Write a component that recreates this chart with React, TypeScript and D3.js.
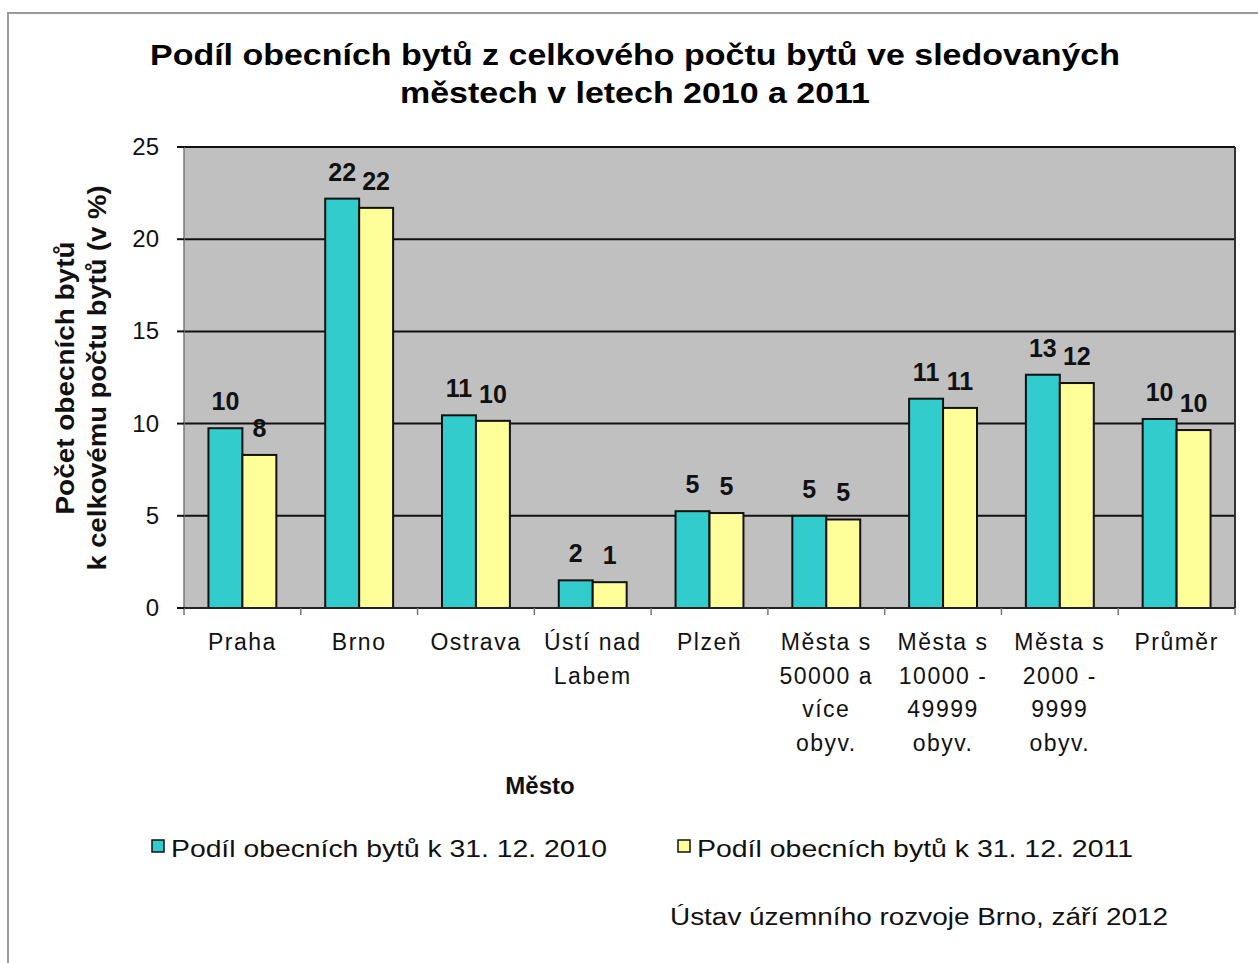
import React from "react";
import * as d3 from "d3";

const categories: string[][] = [
  ["Praha"],
  ["Brno"],
  ["Ostrava"],
  ["Ústí nad", "Labem"],
  ["Plzeň"],
  ["Města s", "50000 a", "více", "obyv."],
  ["Města s", "10000 -", "49999", "obyv."],
  ["Města s", "2000 -", "9999", "obyv."],
  ["Průměr"],
];
const series2010: number[] = [9.75, 22.2, 10.45, 1.5, 5.25, 5.0, 11.35, 12.65, 10.25];
const series2011: number[] = [8.3, 21.7, 10.15, 1.4, 5.15, 4.8, 10.85, 12.2, 9.65];
const labels2010: string[] = ["10", "22", "11", "2", "5", "5", "11", "13", "10"];
const labels2011: string[] = ["8", "22", "10", "1", "5", "5", "11", "12", "10"];
const seriesNames: string[] = ["Podíl obecních bytů k 31. 12. 2010", "Podíl obecních bytů k 31. 12. 2011"];
const yTicks: number[] = [0, 5, 10, 15, 20, 25];
const titleLines: string[] = ["Podíl obecních bytů z celkového počtu bytů ve sledovaných", "městech v letech 2010 a 2011"];
const yTitleLines: string[] = ["Počet obecních bytů", "k celkovému počtu bytů (v %)"];
const xTitle = "Město";
const source = "Ústav územního rozvoje Brno, září 2012";

const colors = ["#33cccc", "#ffff99"];
const FONT = "'Liberation Sans', Arimo, Arial, sans-serif";

export default function App() {
  const W = 1258, H = 963;
  const left = 184, right = 1235, top = 147, bottom = 608;
  const y = d3.scaleLinear().domain([0, 25]).range([bottom, top]);
  const catIdx = categories.map((_, i) => String(i));
  const x0 = d3.scaleBand().domain(catIdx).range([left, right]).padding(0);
  const x1 = d3.scaleBand().domain(["0", "1"]).range([0, x0.bandwidth()]).paddingInner(0).paddingOuter(0.72);
  const seriesData = [series2010, series2011];
  const seriesLabels = [labels2010, labels2011];

  return (
    <svg width={W} height={H} style={{ position: "absolute", left: 0, top: 0, background: "#fff" }} fontFamily={FONT}>
      <rect x={0} y={0} width={W} height={H} fill="#fff" />
      {/* outer frame */}
      <path d={`M8,${H} L8,13 L${W},13`} fill="none" stroke="#9a9a9a" strokeWidth={2} />
      {/* title */}
      <text x={635} y={65} textAnchor="middle" fontSize={30} fontWeight="bold" fill="#000" textLength={970} lengthAdjust="spacingAndGlyphs">{titleLines[0]}</text>
      <text x={635} y={103} textAnchor="middle" fontSize={30} fontWeight="bold" fill="#000" textLength={470} lengthAdjust="spacingAndGlyphs">{titleLines[1]}</text>

      {/* plot area */}
      <rect x={left} y={top} width={right - left} height={bottom - top} fill="#c0c0c0" />
      {yTicks.filter((t) => t > 0).map((t) => (
        <line key={t} x1={left} x2={right} y1={y(t)} y2={y(t)} stroke="#111" strokeWidth={2} />
      ))}
      <line x1={right} x2={right} y1={top} y2={bottom} stroke="#333" strokeWidth={2} />
      <line x1={left} x2={left} y1={top} y2={bottom} stroke="#777" strokeWidth={1.5} />

      {/* bars */}
      {seriesData.map((vals, s) =>
        vals.map((v, i) => (
          <rect
            key={`${s}-${i}`}
            x={(x0(String(i)) as number) + (x1(String(s)) as number)}
            y={y(v)}
            width={x1.bandwidth()}
            height={bottom - y(v)}
            fill={colors[s]}
            stroke="#111"
            strokeWidth={2}
          />
        ))
      )}
      {/* data labels */}
      {seriesData.map((vals, s) =>
        vals.map((v, i) => (
          <text
            key={`l${s}-${i}`}
            x={(x0(String(i)) as number) + (x1(String(s)) as number) + x1.bandwidth() / 2}
            y={y(v) - 18}
            textAnchor="middle"
            fontSize={25}
            fontWeight="bold"
            fill="#111"
          >
            {seriesLabels[s][i]}
          </text>
        ))
      )}

      {/* x axis */}
      <line x1={left - 6} x2={right} y1={bottom} y2={bottom} stroke="#222" strokeWidth={2} />
      {d3.range(categories.length + 1).map((i) => {
        const xx = left + i * x0.bandwidth();
        return <line key={`xt${i}`} x1={xx} x2={xx} y1={bottom} y2={bottom + 7} stroke="#777" strokeWidth={1.5} />;
      })}
      {categories.map((lines, i) => (
        <text key={`xl${i}`} textAnchor="middle" fontSize={23} fill="#111" letterSpacing={1.5}>
          {lines.map((ln, j) => (
            <tspan key={j} x={(x0(String(i)) as number) + x0.bandwidth() / 2} y={650 + j * 33.5}>{ln}</tspan>
          ))}
        </text>
      ))}

      {/* y axis */}
      {yTicks.map((t) => (
        <g key={`yt${t}`}>
          <line x1={left - 7} x2={left} y1={y(t)} y2={y(t)} stroke="#111" strokeWidth={2} />
          <text x={159} y={y(t) + 8} textAnchor="end" fontSize={24} fill="#111">{t}</text>
        </g>
      ))}

      {/* y title */}
      <g transform="translate(0,378) rotate(-90)">
        <text x={0} y={74} textAnchor="middle" fontSize={25} fontWeight="bold" fill="#111" textLength={273} lengthAdjust="spacingAndGlyphs">{yTitleLines[0]}</text>
        <text x={0} y={106} textAnchor="middle" fontSize={25} fontWeight="bold" fill="#111" textLength={385} lengthAdjust="spacingAndGlyphs">{yTitleLines[1]}</text>
      </g>

      {/* x title */}
      <text x={540} y={794} textAnchor="middle" fontSize={24} fontWeight="bold" fill="#111">{xTitle}</text>

      {/* legend */}
      {seriesNames.map((name, s) => {
        const lx = s === 0 ? 152 : 678;
        return (
          <g key={`lg${s}`}>
            <rect x={lx} y={840} width={12} height={12} fill={colors[s]} stroke="#111" strokeWidth={1.5} />
            <text x={lx + 19} y={857} fontSize={24} fill="#111" textLength={436} lengthAdjust="spacingAndGlyphs">{name}</text>
          </g>
        );
      })}

      {/* source */}
      <text x={670} y={925} fontSize={23} fill="#111" textLength={498} lengthAdjust="spacingAndGlyphs">{source}</text>
    </svg>
  );
}
